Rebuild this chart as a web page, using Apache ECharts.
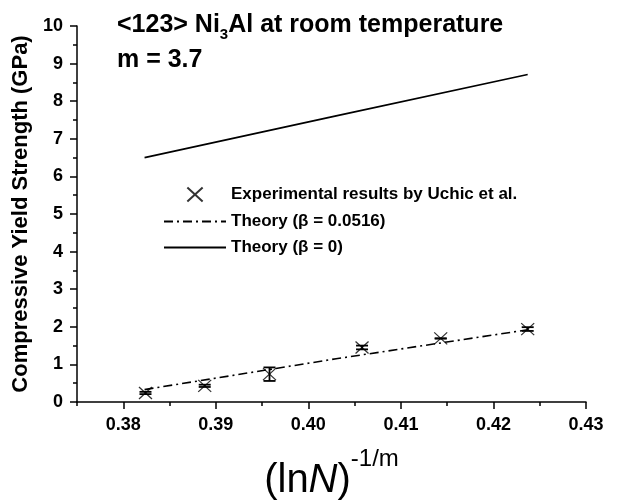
<!DOCTYPE html>
<html>
<head>
<meta charset="utf-8">
<script src="https://cdn.jsdelivr.net/npm/echarts@6/dist/echarts.min.js"></script>
<style>
  html, body { margin: 0; padding: 0; background: #fff; }
  #chart { width: 617px; height: 504px; }
</style>
</head>
<body>
<div id="chart"></div>
<script>
// experimental points (Uchic et al.)
var expX = [0.3824, 0.3888, 0.3958, 0.4058, 0.4143, 0.4237];
var expY = [0.24, 0.43, 0.74, 1.45, 1.69, 1.94];
var expErr = [0.03, 0.03, 0.18, 0.05, 0, 0.05];
// theory curves
var theoryX = [0.3823, 0.4030, 0.4237];
var theoryBeta = [0.33, 1.15, 1.92];   // beta = 0.0516
var theoryZero = [6.50, 7.61, 8.71];   // beta = 0
var xLabels = [0.38, 0.39, 0.40, 0.41, 0.42, 0.43];
var xMinorTicks = [0.375, 0.385, 0.395, 0.405, 0.415, 0.425];

var font = 'Liberation Sans, Arial, Helvetica, sans-serif';
var chart = echarts.init(document.getElementById('chart'));

function pairs(xs, ys) {
  var out = [];
  for (var i = 0; i < xs.length; i++) out.push([xs[i], ys[i]]);
  return out;
}
var errData = [];
for (var i = 0; i < expX.length; i++) {
  errData.push([expX[i], expY[i] - expErr[i], expY[i] + expErr[i]]);
}

var option = {
  backgroundColor: '#fff',
  animation: false,
  textStyle: { fontFamily: font, color: '#000' },
  title: [{
    text: '<123> Ni{s|3}Al at room temperature',
    left: 117, top: 9, padding: 0,
    textStyle: {
      fontFamily: font, fontSize: 25, fontWeight: 'bold', color: '#000',
      rich: { s: { fontFamily: font, fontSize: 15, fontWeight: 'bold', color: '#000', padding: [18, 0, 0, 0] } }
    }
  }, {
    text: 'm = 3.7',
    left: 117, top: 48, padding: 0,
    textStyle: { fontFamily: font, fontSize: 25, fontWeight: 'bold', color: '#000' }
  }],
  legend: {
    orient: 'vertical',
    left: 163, top: 185,
    itemWidth: 62, itemHeight: 14, itemGap: 9,
    padding: 0,
    textStyle: { fontFamily: font, fontSize: 17, fontWeight: 'bold', color: '#000' },
    data: [
      { name: 'Experimental results by Uchic et al.' },
      { name: 'Theory (β = 0.0516)', itemStyle: { opacity: 0 } },
      { name: 'Theory (β = 0)', itemStyle: { opacity: 0 } }
    ]
  },
  grid: { left: 77, right: 31, top: 26, bottom: 102, outerBoundsMode: 'none' },
  xAxis: [{
    type: 'value', min: 0.375, max: 0.43,
    name: '(ln{i|N}){sup|-1/m}',
    nameLocation: 'middle', nameGap: 45,
    nameTextStyle: {
      fontFamily: font, fontSize: 40, color: '#000',
      rich: {
        i: { fontFamily: font, fontSize: 40, fontStyle: 'italic', color: '#000' },
        sup: { fontFamily: font, fontSize: 24, color: '#000', padding: [0, 0, 44, 0] }
      }
    },
    axisLine: { show: true, lineStyle: { color: '#000', width: 1.5 } },
    axisTick: { show: true, inside: false, length: 7, lineStyle: { color: '#000', width: 1.5 }, customValues: xLabels },
    axisLabel: {
      customValues: xLabels, margin: 14,
      fontFamily: font, fontSize: 18, fontWeight: 'bold', color: '#000',
      formatter: function (v) { return v.toFixed(2); }
    },
    splitLine: { show: false }
  }, {
    type: 'value', min: 0.375, max: 0.43, position: 'bottom',
    axisLine: { show: false },
    axisTick: { show: true, inside: false, length: 4, lineStyle: { color: '#000', width: 1.5 }, customValues: xMinorTicks },
    axisLabel: { show: false },
    splitLine: { show: false }
  }],
  yAxis: {
    type: 'value', min: 0, max: 10, interval: 1,
    name: 'Compressive Yield Strength (GPa)',
    nameLocation: 'middle', nameGap: 44, nameRotate: 90,
    nameTextStyle: { fontFamily: font, fontSize: 22, fontWeight: 'bold', color: '#000' },
    axisLine: { show: true, lineStyle: { color: '#000', width: 1.5 } },
    axisTick: { show: true, inside: false, length: 7, lineStyle: { color: '#000', width: 1.5 } },
    minorTick: { show: true, splitNumber: 2, length: 4, lineStyle: { color: '#000', width: 1.5 } },
    axisLabel: { margin: 14, fontFamily: font, fontSize: 18, fontWeight: 'bold', color: '#000' },
    splitLine: { show: false }
  },
  series: [{
    name: 'Experimental results by Uchic et al.',
    type: 'scatter',
    data: pairs(expX, expY),
    symbol: 'path://M0,0L12,11M12,0L0,11',
    symbolSize: [13, 12],
    itemStyle: { color: 'none', borderColor: '#000', borderWidth: 1.2 },
    z: 4
  }, {
    name: 'Theory (β = 0.0516)',
    type: 'line',
    data: pairs(theoryX, theoryBeta),
    symbol: 'none',
    lineStyle: { color: '#000', width: 1.6, type: [9, 4, 2, 4] },
    itemStyle: { color: '#000' }
  }, {
    name: 'Theory (β = 0)',
    type: 'line',
    data: pairs(theoryX, theoryZero),
    symbol: 'none',
    lineStyle: { color: '#000', width: 1.6 },
    itemStyle: { color: '#000' }
  }, {
    type: 'custom',
    data: errData,
    z: 5,
    renderItem: function (params, api) {
      var lo = api.coord([api.value(0), api.value(1)]);
      var hi = api.coord([api.value(0), api.value(2)]);
      var w = 6;
      var st = { stroke: '#000', lineWidth: 1.8 };
      return {
        type: 'group',
        children: [
          { type: 'line', shape: { x1: lo[0], y1: lo[1], x2: hi[0], y2: hi[1] }, style: st },
          { type: 'line', shape: { x1: lo[0] - w, y1: lo[1], x2: lo[0] + w, y2: lo[1] }, style: st },
          { type: 'line', shape: { x1: hi[0] - w, y1: hi[1], x2: hi[0] + w, y2: hi[1] }, style: st }
        ]
      };
    }
  }]
};
chart.setOption(option);
</script>
</body>
</html>
